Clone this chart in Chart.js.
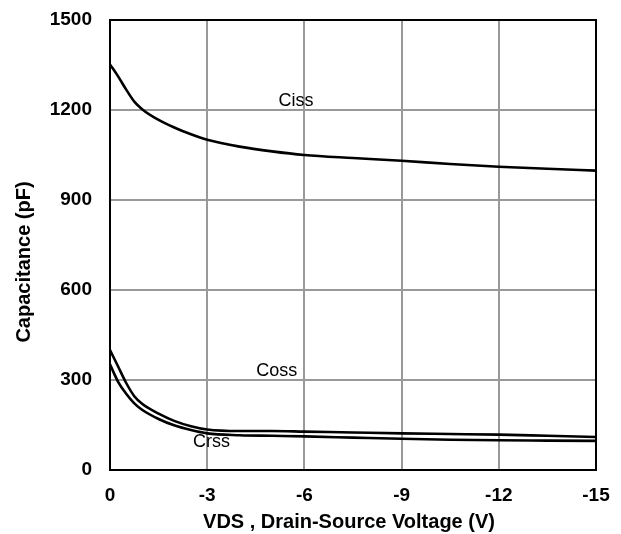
<!DOCTYPE html>
<html>
<head>
<meta charset="utf-8">
<script src="https://cdn.jsdelivr.net/npm/chart.js@4/dist/chart.umd.min.js"></script>
<style>
html,body{margin:0;padding:0;background:#fff;}
#c{display:block;}
</style>
</head>
<body>
<canvas id="c" width="621" height="534"></canvas>
<script>
// Drain-source voltage (V)
const voltage = [0, -0.25, -0.5, -0.75, -1, -1.5, -2, -2.5, -3, -4, -5, -6, -7.5, -9, -10.5, -12, -13.5, -15];
// Capacitances (pF)
const ciss = [1352, 1312, 1268, 1228, 1202, 1167, 1141, 1119, 1101, 1078, 1062, 1050, 1040, 1031, 1020, 1011, 1004, 998];
const coss = [400, 345, 290, 246, 220, 188, 163, 146, 135, 130, 130, 128, 125, 122, 120, 118, 114, 110];
const crss = [352, 294, 254, 222, 200, 170, 148, 133, 122, 116, 114, 112, 108, 104, 101, 99, 98, 97];
// Axis ticks
const xTicks = [0, -3, -6, -9, -12, -15];
const yTicks = [0, 300, 600, 900, 1200, 1500];
// Curve labels (in data coordinates)
const curveNames = ['Ciss', 'Coss', 'Crss'];
const curveLabelV = [-5.74, -5.15, -3.13];
const curveLabelC = [1230, 331, 93];

const xTitle = 'VDS , Drain-Source Voltage (V)';
const yTitle = 'Capacitance (pF)';

function pts(ys) { return voltage.map((v, i) => ({x: v, y: ys[i]})); }

const lineStyle = {
  borderColor: '#000', borderWidth: 2.6, pointRadius: 0, fill: false,
  cubicInterpolationMode: 'monotone'
};

const framePlugin = {
  id: 'frame',
  afterDatasetsDraw(chart) {
    const {ctx, chartArea: a} = chart;
    ctx.save();
    ctx.strokeStyle = '#000';
    ctx.lineWidth = 2;
    ctx.strokeRect(a.left, a.top, a.right - a.left, a.bottom - a.top);
    ctx.restore();
  },
  afterDraw(chart) {
    const {ctx, chartArea: a, scales} = chart;
    ctx.save();
    ctx.fillStyle = '#000';
    ctx.font = '18px "Liberation Sans", Arial, sans-serif';
    ctx.textAlign = 'center';
    ctx.textBaseline = 'middle';
    curveNames.forEach((n, i) => {
      ctx.fillText(n, scales.x.getPixelForValue(curveLabelV[i]), scales.y.getPixelForValue(curveLabelC[i]));
    });
    ctx.font = 'bold 20px "Liberation Sans", Arial, sans-serif';
    ctx.fillText(xTitle, (a.left + a.right) / 2 - 4, 522);
    ctx.translate(24, (a.top + a.bottom) / 2 + 17);
    ctx.rotate(-Math.PI / 2);
    ctx.fillText(yTitle, 0, 0);
    ctx.restore();
  }
};

const tickFont = {family: '"Liberation Sans", Arial, sans-serif', size: 19, weight: 'bold'};

new Chart(document.getElementById('c'), {
  type: 'line',
  data: {
    datasets: [
      Object.assign({label: 'Ciss', data: pts(ciss)}, lineStyle),
      Object.assign({label: 'Coss', data: pts(coss)}, lineStyle),
      Object.assign({label: 'Crss', data: pts(crss)}, lineStyle)
    ]
  },
  options: {
    responsive: false,
    animation: false,
    devicePixelRatio: 1,
    layout: {autoPadding: false, padding: {left: 0, top: 20, right: 25, bottom: 0}},
    plugins: {legend: {display: false}, tooltip: {enabled: false}},
    scales: {
      x: {
        type: 'linear', min: -15, max: 0, reverse: true,
        afterFit(s) { s.height = 64; },
        afterBuildTicks(s) { s.ticks = xTicks.map(v => ({value: v})); },
        grid: {color: '#999', lineWidth: 2, drawTicks: true, tickLength: 14, tickColor: 'rgba(0,0,0,0)'},
        border: {display: false},
        ticks: {color: '#000', padding: 0, maxRotation: 0, callback: v => String(v), font: tickFont}
      },
      y: {
        type: 'linear', min: 0, max: 1500,
        afterFit(s) { s.width = 110; },
        afterBuildTicks(s) { s.ticks = yTicks.map(v => ({value: v})); },
        grid: {color: '#999', lineWidth: 2, drawTicks: true, tickLength: 18, tickColor: 'rgba(0,0,0,0)'},
        border: {display: false},
        ticks: {color: '#000', padding: 0, callback: v => String(v), font: tickFont}
      }
    }
  },
  plugins: [framePlugin]
});
</script>
</body>
</html>
